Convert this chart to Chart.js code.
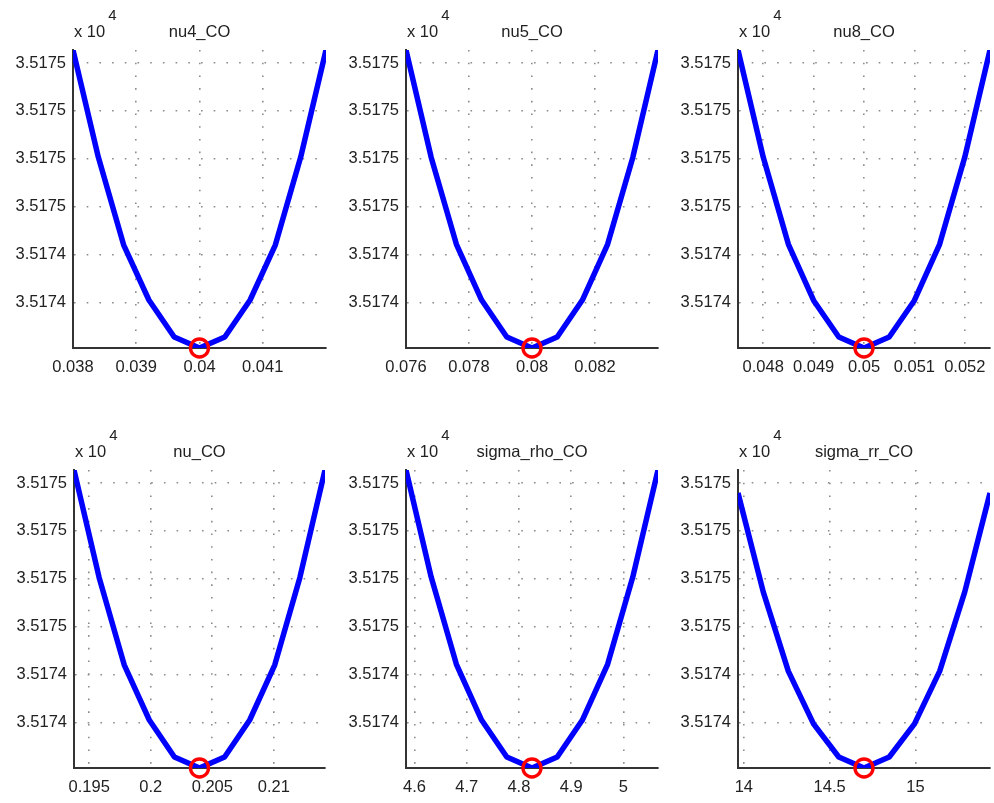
<!DOCTYPE html>
<html>
<head>
<meta charset="utf-8">
<script src="https://cdn.jsdelivr.net/npm/chart.js@4/dist/chart.umd.min.js"></script>
<style>
  html, body { margin: 0; padding: 0; background: #ffffff; }
  #wrap { position: relative; width: 994px; height: 803px; background: #ffffff; overflow: hidden; }
  canvas { position: absolute; }
</style>
</head>
<body>
<div id="wrap">
  <canvas id="c0" width="331" height="420" style="left:0px;top:0px"></canvas>
  <canvas id="c1" width="331" height="420" style="left:331px;top:0px"></canvas>
  <canvas id="c2" width="332" height="420" style="left:662px;top:0px"></canvas>
  <canvas id="c3" width="331" height="383" style="left:0px;top:420px"></canvas>
  <canvas id="c4" width="331" height="383" style="left:331px;top:420px"></canvas>
  <canvas id="c5" width="332" height="383" style="left:662px;top:420px"></canvas>
</div>
<script>
// ---------- data ----------
const titles = ['nu4_CO', 'nu5_CO', 'nu8_CO', 'nu_CO', 'sigma_rho_CO', 'sigma_rr_CO'];

// shared y axis (objective value, shown as x 10^4)
const yTicks = [35174.3, 35174.4, 35174.5, 35174.6, 35174.7, 35174.8];
const yTickLabels = ['3.5174', '3.5174', '3.5175', '3.5175', '3.5175', '3.5175'];
const yMin = 35174.206;
const yMax = 35174.827;

// parameter sweeps
const xNu4 = [0.038, 0.0384, 0.0388, 0.0392, 0.0396, 0.04, 0.0404, 0.0408, 0.0412, 0.0416, 0.042];
const yNu4 = [35174.827, 35174.604, 35174.421, 35174.306, 35174.229, 35174.206, 35174.229, 35174.306, 35174.421, 35174.604, 35174.827];

const xNu5 = [0.076, 0.0768, 0.0776, 0.0784, 0.0792, 0.08, 0.0808, 0.0816, 0.0824, 0.0832, 0.084];
const yNu5 = [35174.827, 35174.603, 35174.422, 35174.306, 35174.229, 35174.206, 35174.229, 35174.306, 35174.422, 35174.603, 35174.827];

const xNu8 = [0.0475, 0.048, 0.0485, 0.049, 0.0495, 0.05, 0.0505, 0.051, 0.0515, 0.052, 0.0525];
const yNu8 = [35174.827, 35174.604, 35174.422, 35174.305, 35174.229, 35174.206, 35174.229, 35174.305, 35174.422, 35174.604, 35174.827];

const xNu = [0.19376, 0.1958, 0.19784, 0.19988, 0.20192, 0.20396, 0.206, 0.20804, 0.21008, 0.21212, 0.21416];
const yNu = [35174.827, 35174.603, 35174.421, 35174.306, 35174.229, 35174.206, 35174.229, 35174.306, 35174.421, 35174.603, 35174.827];

const xSigmaRho = [4.5838, 4.632, 4.6803, 4.7285, 4.7768, 4.825, 4.8733, 4.9215, 4.9698, 5.018, 5.0663];
const ySigmaRho = [35174.827, 35174.604, 35174.422, 35174.306, 35174.229, 35174.206, 35174.229, 35174.306, 35174.422, 35174.604, 35174.827];

const xSigmaRr = [13.966, 14.113, 14.259, 14.406, 14.553, 14.7, 14.847, 14.994, 15.141, 15.287, 15.434];
const ySigmaRr = [35174.779, 35174.573, 35174.408, 35174.298, 35174.229, 35174.206, 35174.229, 35174.298, 35174.408, 35174.573, 35174.779];

// optimum markers
const optX = [0.04, 0.08, 0.05, 0.20396, 4.825, 14.7];
const optY = [35174.206, 35174.206, 35174.206, 35174.206, 35174.206, 35174.206];

// x tick values and labels
const xTicksNu4 = [0.038, 0.039, 0.04, 0.041];
const xLabelsNu4 = ['0.038', '0.039', '0.04', '0.041'];
const xTicksNu5 = [0.076, 0.078, 0.08, 0.082];
const xLabelsNu5 = ['0.076', '0.078', '0.08', '0.082'];
const xTicksNu8 = [0.048, 0.049, 0.05, 0.051, 0.052];
const xLabelsNu8 = ['0.048', '0.049', '0.05', '0.051', '0.052'];
const xTicksNu = [0.195, 0.2, 0.205, 0.21];
const xLabelsNu = ['0.195', '0.2', '0.205', '0.21'];
const xTicksSigmaRho = [4.6, 4.7, 4.8, 4.9, 5];
const xLabelsSigmaRho = ['4.6', '4.7', '4.8', '4.9', '5'];
const xTicksSigmaRr = [14, 14.5, 15];
const xLabelsSigmaRr = ['14', '14.5', '15'];

// ---------- assembly ----------
const xsAll = [xNu4, xNu5, xNu8, xNu, xSigmaRho, xSigmaRr];
const ysAll = [yNu4, yNu5, yNu8, yNu, ySigmaRho, ySigmaRr];
const xTicksAll = [xTicksNu4, xTicksNu5, xTicksNu8, xTicksNu, xTicksSigmaRho, xTicksSigmaRr];
const xLabelsAll = [xLabelsNu4, xLabelsNu5, xLabelsNu8, xLabelsNu, xLabelsSigmaRho, xLabelsSigmaRr];

// layout (chart area inside each canvas)
const areaLeft = [73, 75, 76, 74, 75, 76];
const areaRight = [326, 327, 328, 325, 327, 328];
const areaTop = 50, areaBottom = 348;
const Y_AXIS_W = 70, X_AXIS_H = 30;

const FONT = "'Liberation Sans', Arial, Helvetica, sans-serif";
const TEXT = '#222222';
const FS = 16.5;

const panelText = {
  id: 'panelText',
  afterDraw(chart, args, opts) {
    const ctx = chart.ctx, a = chart.chartArea;
    ctx.save();
    ctx.fillStyle = TEXT;
    ctx.textBaseline = 'middle';
    ctx.font = FS + 'px ' + FONT;
    ctx.textAlign = 'center';
    ctx.fillText(opts.title, (a.left + a.right) / 2, a.top - 18);
    ctx.textAlign = 'left';
    const base = 'x 10';
    ctx.fillText(base, a.left + 1, a.top - 18);
    const w = ctx.measureText(base).width;
    ctx.font = '15px ' + FONT;
    ctx.fillText('4', a.left + 1 + w + 3, a.top - 34);
    ctx.restore();
  }
};

function makeChart(i) {
  const canvas = document.getElementById('c' + i);
  const W = canvas.width, H = canvas.height;
  const xs = xsAll[i], ys = ysAll[i];
  const lineData = xs.map((x, k) => ({ x: x, y: ys[k] }));
  const xT = xTicksAll[i], xL = xLabelsAll[i];
  return new Chart(canvas, {
    type: 'scatter',
    data: {
      datasets: [
        {
          data: [{ x: optX[i], y: optY[i] }],
          pointStyle: 'circle',
          pointRadius: 9,
          pointBorderWidth: 3.4,
          pointBorderColor: '#ff0000',
          pointBackgroundColor: 'rgba(0,0,0,0)',
          showLine: false,
          clip: false,
          order: 0
        },
        {
          data: lineData,
          showLine: true,
          borderColor: '#0000ff',
          borderWidth: 5.5,
          pointRadius: 0,
          tension: 0,
          borderJoinStyle: 'round',
          borderCapStyle: 'butt',
          order: 1
        }
      ]
    },
    options: {
      responsive: false,
      animation: false,
      events: [],
      layout: {
        autoPadding: false,
        padding: {
          left: areaLeft[i] - Y_AXIS_W,
          right: W - areaRight[i],
          top: areaTop,
          bottom: H - areaBottom - X_AXIS_H
        }
      },
      plugins: {
        legend: { display: false },
        tooltip: { enabled: false },
        title: { display: false },
        panelText: { title: titles[i] }
      },
      scales: {
        x: {
          type: 'linear',
          min: xs[0],
          max: xs[xs.length - 1],
          afterBuildTicks: (s) => { s.ticks = xT.map(v => ({ value: v })); },
          afterFit: (s) => { s.height = X_AXIS_H; s.paddingLeft = 0; s.paddingRight = 0; },
          ticks: {
            autoSkip: false,
            maxRotation: 0,
            padding: 10,
            color: TEXT,
            font: { family: FONT, size: FS },
            callback: (v, idx) => xL[idx]
          },
          grid: {
            drawTicks: false,
            color: '#8c8c8c',
            lineWidth: 1.6
          },
          border: { display: true, color: '#333333', width: 2, dash: [1.6, 11.1] }
        },
        y: {
          type: 'linear',
          min: yMin,
          max: yMax,
          afterBuildTicks: (s) => { s.ticks = yTicks.map(v => ({ value: v })); },
          afterFit: (s) => { s.width = Y_AXIS_W; s.paddingTop = 0; s.paddingBottom = 0; },
          ticks: {
            autoSkip: false,
            padding: 7,
            color: TEXT,
            font: { family: FONT, size: FS },
            callback: (v, idx) => yTickLabels[idx]
          },
          grid: {
            drawTicks: false,
            color: '#8c8c8c',
            lineWidth: 1.6
          },
          border: { display: true, color: '#333333', width: 2, dash: [1.6, 11.1] }
        }
      }
    },
    plugins: [panelText]
  });
}

for (let i = 0; i < 6; i++) makeChart(i);
</script>
</body>
</html>
